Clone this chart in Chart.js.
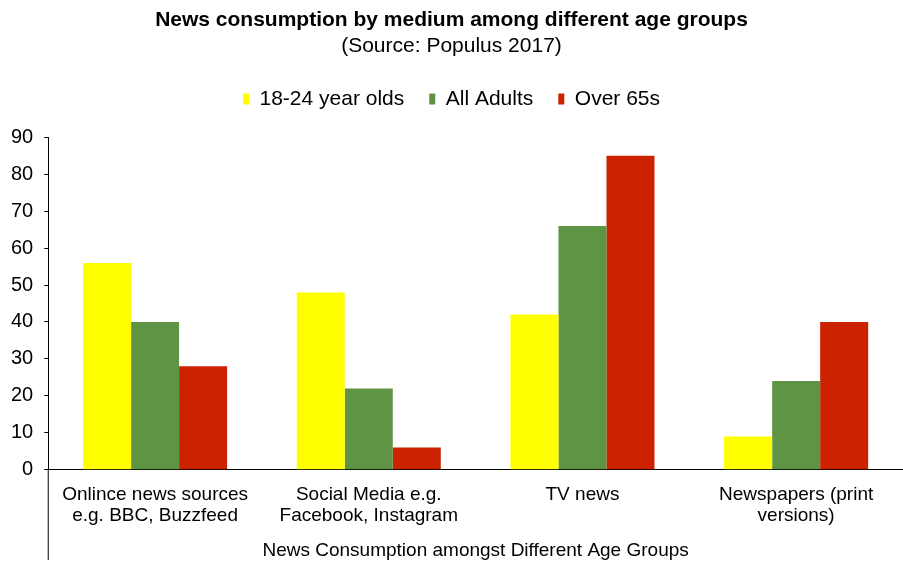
<!DOCTYPE html>
<html lang="en">
  <head>
    <meta charset="UTF-8" />
    <title>News consumption</title>
    <script src="https://cdn.jsdelivr.net/npm/chart.js"></script>
    <style>
      body { margin: 0; background: #fff; }
      #wrap { width: 903px; height: 562px; position: relative; }
    </style>
  </head>
  <body>
    <div id="wrap"><canvas id="newsChart"></canvas></div>

    <script>
      const categories = [
        ["Onlince news sources", "e.g. BBC, Buzzfeed"],
        ["Social Media e.g.", "Facebook, Instagram"],
        "TV news",
        ["Newspapers (print", "versions)"],
      ];
      const youngValues = [56, 48, 42, 9];
      const adultValues = [40, 22, 66, 24];
      const olderValues = [28, 6, 85, 40];
      const yTicks = [0, 10, 20, 30, 40, 50, 60, 70, 80, 90];

      const fontFamily = "'Liberation Sans', Arial, sans-serif";

      // extra gap under the legend
      const legendGap = {
        id: "legendGap",
        beforeInit(chart) {
          const origFit = chart.legend.fit;
          chart.legend.fit = function () {
            origFit.bind(chart.legend)();
            this.height += 18;
          };
        },
      };

      // extends the y axis line down past the category labels, like the original
      const axisExtend = {
        id: "axisExtend",
        afterDraw(chart) {
          const ctx = chart.ctx;
          const x = chart.chartArea.left;
          ctx.save();
          ctx.strokeStyle = "#000";
          ctx.lineWidth = 1;
          ctx.beginPath();
          ctx.moveTo(x, chart.chartArea.bottom);
          ctx.lineTo(x, chart.height - 2);
          ctx.stroke();
          ctx.restore();
        },
      };

      const ctx = document.getElementById("newsChart").getContext("2d");
      const newsChart = new Chart(ctx, {
        type: "bar",
        data: {
          labels: categories,
          datasets: [
            { label: "18-24 year olds", data: youngValues, backgroundColor: "#ffff00" },
            { label: "All Adults", data: adultValues, backgroundColor: "#609445" },
            { label: "Over 65s", data: olderValues, backgroundColor: "#cc2200" },
          ],
        },
        options: {
          responsive: true,
          maintainAspectRatio: false,
          animation: false,
          datasets: {
            bar: { categoryPercentage: 0.674, barPercentage: 1.0 },
          },
          layout: { padding: { left: 0, right: 0, top: 8, bottom: 0 } },
          plugins: {
            title: {
              display: true,
              text: "News consumption by medium among different age groups",
              color: "#000",
              font: { family: fontFamily, size: 21, weight: "bold" },
              padding: { top: 0, bottom: 0 },
            },
            subtitle: {
              display: true,
              text: "(Source: Populus 2017)",
              color: "#000",
              font: { family: fontFamily, size: 21 },
              padding: { top: 0, bottom: 5 },
            },
            legend: {
              position: "top",
              labels: {
                color: "#000",
                font: { family: fontFamily, size: 21 },
                boxWidth: 6,
                boxHeight: 11,
                padding: 25,
              },
            },
            tooltip: { enabled: false },
          },
          scales: {
            x: {
              grid: { display: false },
              border: { color: "#000", width: 1 },
              ticks: {
                color: "#000",
                font: { family: fontFamily, size: 19, lineHeight: 1.12 },
                maxRotation: 0,
                autoSkip: false,
                padding: 6,
              },
              title: {
                display: true,
                text: "News Consumption amongst Different Age Groups",
                color: "#000",
                font: { family: fontFamily, size: 19 },
                padding: { top: 7, bottom: 0 },
              },
            },
            y: {
              min: 0,
              max: 90,
              afterBuildTicks(axis) {
                axis.ticks = yTicks.map((v) => ({ value: v }));
              },
              grid: {
                drawOnChartArea: false,
                drawTicks: true,
                tickLength: 4,
                color: "#000",
              },
              border: { color: "#000", width: 1 },
              ticks: {
                color: "#000",
                font: { family: fontFamily, size: 20 },
                padding: 11,
              },
            },
          },
        },
        plugins: [legendGap, axisExtend],
      });
    </script>
  </body>
</html>
